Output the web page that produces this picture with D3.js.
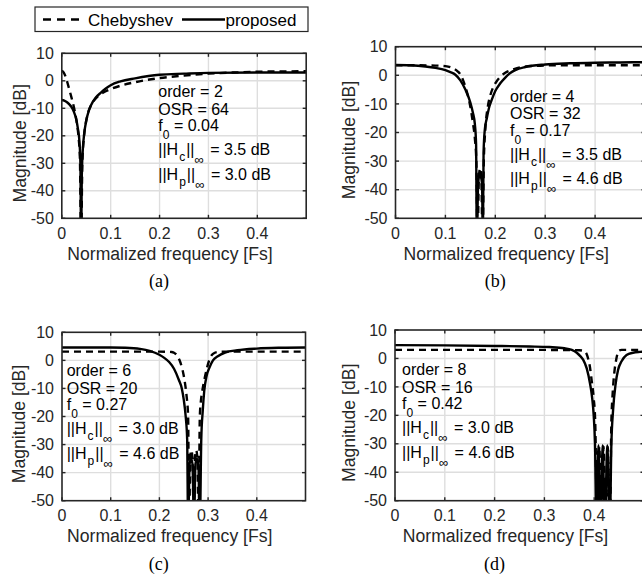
<!DOCTYPE html>
<html>
<head>
<meta charset="utf-8">
<script src="https://cdn.jsdelivr.net/npm/d3@7"></script>
<style>
  body { margin: 0; background: #fff; }
  text { font-family: "Liberation Sans", Arial, Helvetica, sans-serif; }
</style>
</head>
<body>
<div id="chart"></div>
<script>
// tick values
var freqTicks = [0, 0.1, 0.2, 0.3, 0.4];
var dbTicks = [10, 0, -10, -20, -30, -40, -50];

// per panel annotations
var panelNames = ["(a)", "(b)", "(c)", "(d)"];
var orders = [2, 4, 6, 8];
var osrs = [64, 32, 20, 16];
var f0s = ["0.04", "0.17", "0.27", "0.42"];
var hcNorms = ["3.5", "3.5", "3.0", "3.0"];
var hpNorms = ["3.0", "4.6", "4.6", "4.6"];
var seriesNames = ["Chebyshev", "proposed"];

// (a) order 2
var chebA_f = [0, 0.004, 0.008, 0.012, 0.016, 0.02, 0.025, 0.03, 0.034, 0.037, 0.0395, 0.042, 0.045, 0.049, 0.054, 0.06, 0.07, 0.08, 0.09, 0.1, 0.12, 0.15, 0.2, 0.25, 0.3, 0.35, 0.4, 0.45, 0.5];
var chebA_db = [3.7, 3.0, 1.4, -1.0, -3.6, -6.2, -9.8, -14.5, -20, -28, -60, -30, -21, -15.5, -11.5, -8.8, -6.3, -4.8, -3.8, -3.0, -1.8, -0.5, 1.0, 1.9, 2.6, 3.0, 3.3, 3.4, 3.5];
var propA_f = [0, 0.005, 0.01, 0.015, 0.02, 0.025, 0.03, 0.033, 0.036, 0.038, 0.0395, 0.041, 0.043, 0.046, 0.05, 0.055, 0.06, 0.07, 0.08, 0.09, 0.1, 0.12, 0.15, 0.2, 0.25, 0.3, 0.4, 0.5];
var propA_db = [-7.0, -7.2, -7.7, -8.5, -9.6, -11.4, -14.3, -17.5, -22, -30, -60, -34, -25, -19, -14.5, -11, -8.8, -6, -4.3, -2.8, -1.6, -0.2, 0.9, 2.2, 2.6, 2.9, 3.0, 3.0];

// (b) order 4
var chebB_f = [0, 0.04, 0.08, 0.1, 0.115, 0.125, 0.13, 0.135, 0.14, 0.145, 0.15, 0.155, 0.159, 0.162, 0.1645, 0.167, 0.1695, 0.172, 0.1745, 0.177, 0.18, 0.185, 0.19, 0.195, 0.2, 0.21, 0.22, 0.235, 0.25, 0.28, 0.32, 0.4, 0.5];
var chebB_db = [3.5, 3.5, 3.4, 3.2, 2.5, 1.3, 0.3, -1.5, -4, -7, -11, -16.5, -22, -30, -60, -36, -32.5, -36, -60, -30, -19, -11, -7, -4.5, -2.8, -0.5, 0.9, 2.0, 2.8, 3.3, 3.5, 3.5, 3.5];
var propB_f = [0, 0.03, 0.06, 0.08, 0.1, 0.11, 0.12, 0.13, 0.14, 0.15, 0.155, 0.159, 0.1615, 0.163, 0.1655, 0.169, 0.1735, 0.175, 0.1765, 0.179, 0.183, 0.188, 0.193, 0.2, 0.21, 0.22, 0.23, 0.24, 0.26, 0.3, 0.35, 0.4, 0.45, 0.5];
var propB_db = [3.6, 3.5, 3.1, 2.6, 1.8, 1.1, 0.2, -1.8, -5.0, -9.5, -13, -17, -24, -60, -38, -34.5, -38, -60, -27, -19, -15, -11, -8.5, -5.5, -2.8, -0.8, 0.8, 1.8, 2.9, 3.8, 4.2, 4.4, 4.5, 4.6];

// (c) order 6
var chebC_f = [0, 0.1, 0.2, 0.225, 0.23, 0.2355, 0.241, 0.2457, 0.2495, 0.2526, 0.256, 0.259, 0.261, 0.2633, 0.2655, 0.268, 0.2705, 0.273, 0.2755, 0.278, 0.2805, 0.283, 0.2855, 0.2875, 0.291, 0.294, 0.298, 0.304, 0.31, 0.32, 0.35, 0.5];
var chebC_db = [3.1, 3.1, 3.1, 3.0, 2.7, 1.9, 0.2, -2.2, -5, -8.2, -13, -20, -60, -35, -32, -35, -60, -35, -32, -35, -60, -20, -14, -11.5, -8, -5.5, -2.5, 0.8, 2.3, 3.0, 3.1, 3.1];
var propC_f = [0, 0.05, 0.1, 0.13, 0.16, 0.18, 0.2, 0.21, 0.22, 0.23, 0.24, 0.246, 0.25, 0.254, 0.257, 0.259, 0.262, 0.265, 0.268, 0.271, 0.274, 0.277, 0.28, 0.283, 0.286, 0.289, 0.292, 0.297, 0.303, 0.31, 0.32, 0.335, 0.36, 0.4, 0.45, 0.5];
var propC_db = [4.6, 4.6, 4.6, 4.5, 4.1, 3.4, 2.0, 0.9, -0.6, -3.0, -7.0, -10, -14, -20, -28, -60, -37, -35, -37, -60, -37, -35, -37, -60, -28, -18, -11, -5.5, -2.5, 0, 1.5, 2.8, 3.6, 4.2, 4.5, 4.6];

// (d) order 8
var chebD_f = [0, 0.1, 0.2, 0.3, 0.37, 0.38, 0.385, 0.3885, 0.3916, 0.395, 0.399, 0.402, 0.406, 0.4103, 0.4145, 0.4188, 0.423, 0.4273, 0.4315, 0.4345, 0.4365, 0.4384, 0.441, 0.4438, 0.4465, 0.4485, 0.455, 0.47, 0.5];
var chebD_db = [3.0, 3.0, 3.0, 3.0, 2.9, 2.6, 1.5, -0.5, -3.2, -7.9, -14, -22, -60, -31, -60, -31, -60, -31, -60, -22, -14, -8.8, -4, -0.8, 1.5, 2.6, 3.0, 3.0, 3.0];
var propD_f = [0, 0.1, 0.2, 0.27, 0.31, 0.34, 0.355, 0.365, 0.372, 0.378, 0.385, 0.3916, 0.396, 0.399, 0.4016, 0.4046, 0.4086, 0.4126, 0.417, 0.4213, 0.4263, 0.4313, 0.4345, 0.438, 0.443, 0.448, 0.455, 0.465, 0.478, 0.492, 0.5];
var propD_db = [4.7, 4.6, 4.4, 4.2, 4.0, 3.6, 3.0, 2.0, 0.8, -0.5, -3.5, -8.8, -14, -20, -30, -60, -30.5, -60, -30.5, -60, -30.5, -60, -30, -18, -9, -4, -1, 1.2, 2.0, 2.3, 2.4];

// layout of the four axes (pixels)
var panels = [
  {left: 61.8, top: 53.3, width: 244.4, height: 165, ylabX: 20,    txtX: 158.3, txtY: 97.3,  cheb: [chebA_f, chebA_db], prop: [propA_f, propA_db]},
  {left: 395.5, top: 46.7, width: 249.5, height: 171.6, ylabX: 349.3, txtX: 510, txtY: 101.7, cheb: [chebB_f, chebB_db], prop: [propB_f, propB_db]},
  {left: 62,   top: 332.3, width: 243.5, height: 168.4, ylabX: 18.5,  txtX: 66.7, txtY: 376,   cheb: [chebC_f, chebC_db], prop: [propC_f, propC_db]},
  {left: 395,  top: 330,   width: 249,   height: 170.7, ylabX: 349.3, txtX: 402,  txtY: 375,   cheb: [chebD_f, chebD_db], prop: [propD_f, propD_db]}
];
var lineOffsets = [0, 17.5, 34, 58, 82.5];

var ink = "#262626";

var svg = d3.select("#chart")
  .append("svg")
    .attr("width", 642)
    .attr("height", 580);

svg.append("rect").attr("width", 642).attr("height", 580).attr("fill", "#fff");

// legend
var legend = svg.append("g");
legend.append("rect")
  .attr("x", 35).attr("y", 7)
  .attr("width", 273).attr("height", 24.5)
  .attr("fill", "#fff").attr("stroke", ink).attr("stroke-width", 1.2);
legend.append("line")
  .attr("x1", 43).attr("x2", 85).attr("y1", 19.5).attr("y2", 19.5)
  .attr("stroke", "#000").attr("stroke-width", 2.4).attr("stroke-dasharray", "8,6");
legend.append("text").attr("x", 88).attr("y", 25.5)
  .attr("font-size", 17).attr("fill", "#000").text(seriesNames[0]);
legend.append("line")
  .attr("x1", 182).attr("x2", 225).attr("y1", 19.5).attr("y2", 19.5)
  .attr("stroke", "#000").attr("stroke-width", 2.4);
legend.append("text").attr("x", 225.5).attr("y", 25.5)
  .attr("font-size", 17).attr("fill", "#000").text(seriesNames[1]);

panels.forEach(function(p, i) {
  var g = svg.append("g");

  var x = d3.scaleLinear().domain([0, 0.5]).range([p.left, p.left + p.width]);
  var y = d3.scaleLinear().domain([-50, 10]).range([p.top + p.height, p.top]);

  // grid
  g.selectAll(null).data(freqTicks.filter(function(d) { return d > 0; })).enter()
    .append("line")
      .attr("x1", function(d) { return x(d); }).attr("x2", function(d) { return x(d); })
      .attr("y1", p.top).attr("y2", p.top + p.height)
      .attr("stroke", "#dedede").attr("stroke-width", 1.4);
  g.selectAll(null).data(dbTicks.filter(function(d) { return d > -50 && d < 10; })).enter()
    .append("line")
      .attr("y1", function(d) { return y(d); }).attr("y2", function(d) { return y(d); })
      .attr("x1", p.left).attr("x2", p.left + p.width)
      .attr("stroke", "#dedede").attr("stroke-width", 1.4);

  // curves
  var clipId = "clip" + i;
  svg.append("clipPath").attr("id", clipId)
    .append("rect")
      .attr("x", p.left).attr("y", p.top)
      .attr("width", p.width).attr("height", p.height);

  var line = d3.line()
    .x(function(d) { return x(d[0]); })
    .y(function(d) { return y(d[1]); })
    .curve(d3.curveMonotoneX);

  var curves = g.append("g").attr("clip-path", "url(#" + clipId + ")");
  curves.append("path")
    .datum(d3.zip(p.cheb[0], p.cheb[1]))
    .attr("d", line)
    .attr("fill", "none").attr("stroke", "#000")
    .attr("stroke-width", 2.4).attr("stroke-dasharray", "7,5");
  curves.append("path")
    .datum(d3.zip(p.prop[0], p.prop[1]))
    .attr("d", line)
    .attr("fill", "none").attr("stroke", "#000")
    .attr("stroke-width", 2.4);

  // box and inward ticks
  g.append("rect")
    .attr("x", p.left).attr("y", p.top)
    .attr("width", p.width).attr("height", p.height)
    .attr("fill", "none").attr("stroke", ink).attr("stroke-width", 1.6);
  var tl = 3.5;
  freqTicks.forEach(function(d) {
    g.append("line").attr("x1", x(d)).attr("x2", x(d))
      .attr("y1", p.top + p.height).attr("y2", p.top + p.height - tl)
      .attr("stroke", ink).attr("stroke-width", 1.4);
    g.append("line").attr("x1", x(d)).attr("x2", x(d))
      .attr("y1", p.top).attr("y2", p.top + tl)
      .attr("stroke", ink).attr("stroke-width", 1.4);
  });
  dbTicks.forEach(function(d) {
    g.append("line").attr("y1", y(d)).attr("y2", y(d))
      .attr("x1", p.left).attr("x2", p.left + tl)
      .attr("stroke", ink).attr("stroke-width", 1.4);
    g.append("line").attr("y1", y(d)).attr("y2", y(d))
      .attr("x1", p.left + p.width).attr("x2", p.left + p.width - tl)
      .attr("stroke", ink).attr("stroke-width", 1.4);
  });

  // tick labels
  g.selectAll(null).data(freqTicks).enter()
    .append("text")
      .attr("x", function(d) { return x(d); })
      .attr("y", p.top + p.height + 20.5)
      .attr("text-anchor", "middle")
      .attr("font-size", 16).attr("fill", ink)
      .text(function(d) { return d3.format("")(d); });
  g.selectAll(null).data(dbTicks).enter()
    .append("text")
      .attr("x", p.left - 8)
      .attr("y", function(d) { return y(d); })
      .attr("dy", "0.35em")
      .attr("text-anchor", "end")
      .attr("font-size", 16).attr("fill", ink)
      .text(function(d) { return d; });

  // axis labels
  g.append("text")
    .attr("x", p.left + p.width / 2 - 14)
    .attr("y", p.top + p.height + 41.5)
    .attr("text-anchor", "middle")
    .attr("font-size", 17.6).attr("fill", ink)
    .text("Normalized frequency [Fs]");
  g.append("text")
    .attr("transform", "translate(" + p.ylabX + "," + (p.top + p.height / 2 + 7.5) + ") rotate(-90)")
    .attr("dy", "0.35em")
    .attr("text-anchor", "middle")
    .attr("font-size", 17.6).attr("fill", ink)
    .text("Magnitude [dB]");

  // annotation
  var ann = g.append("g").attr("font-size", 16).attr("fill", "#000");
  ann.append("text").attr("x", p.txtX).attr("y", p.txtY + lineOffsets[0])
    .text("order = " + orders[i]);
  ann.append("text").attr("x", p.txtX).attr("y", p.txtY + lineOffsets[1])
    .text("OSR = " + osrs[i]);
  var t3 = ann.append("text").attr("x", p.txtX).attr("y", p.txtY + lineOffsets[2]);
  t3.append("tspan").text("f");
  t3.append("tspan").attr("font-size", 12).attr("dy", 8).text("0");
  t3.append("tspan").attr("dy", -8).text(" = " + f0s[i]);
  [hcNorms[i], hpNorms[i]].forEach(function(v, k) {
    var t = ann.append("text").attr("x", p.txtX).attr("y", p.txtY + lineOffsets[3 + k]);
    t.append("tspan").text("||H");
    t.append("tspan").attr("font-size", 12).attr("dy", 6).attr("dx", 1).text(k === 0 ? "c" : "p");
    t.append("tspan").attr("dy", -6).attr("dx", 1).text("||");
    t.append("tspan").attr("font-size", 13).attr("dy", 9).attr("dx", 0).text("\u221E");
    t.append("tspan").attr("dy", -9).attr("dx", 2).text(" = " + v + " dB");
  });

  // sub caption
  g.append("text")
    .attr("x", p.left + p.width / 2 - 25)
    .attr("y", p.top + p.height + 69)
    .attr("text-anchor", "middle")
    .attr("font-family", "Liberation Serif, Times New Roman, serif")
    .style("font-family", "'Liberation Serif', 'Times New Roman', serif")
    .attr("font-size", 18).attr("fill", "#000")
    .text(panelNames[i]);
});
</script>
</body>
</html>
